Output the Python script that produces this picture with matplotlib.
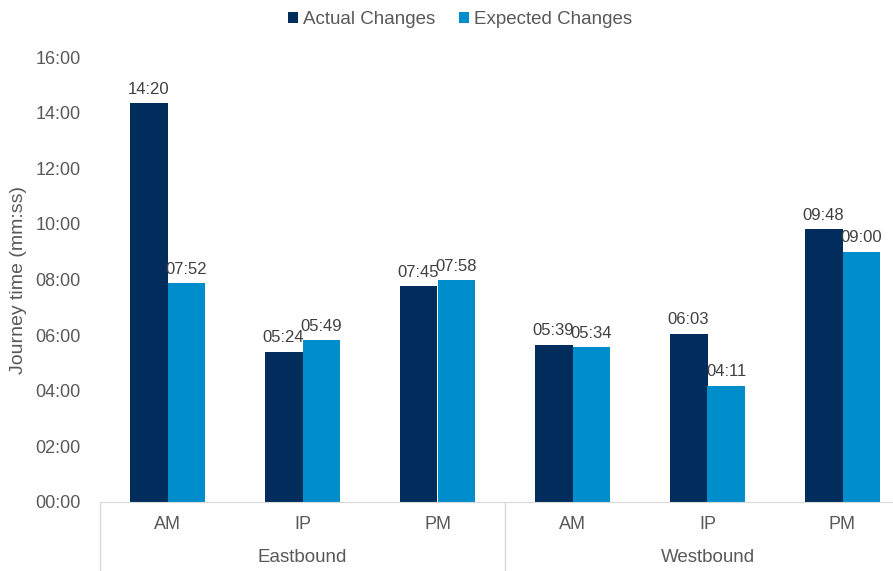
import numpy as np
import matplotlib.pyplot as plt

plt.rcParams['font.family'] = ['Liberation Sans', 'DejaVu Sans']

# Journey times in seconds
periods = ["AM", "IP", "PM", "AM", "IP", "PM"]
directions = ["Eastbound", "Westbound"]
actual = [860, 324, 465, 339, 363, 588]
expected = [472, 349, 478, 334, 251, 540]

navy = "#002D5B"
blue = "#008DCC"
text_col = "#595959"
line_col = "#D9D9D9"


def mmss(sec):
    return f"{int(sec) // 60:02d}:{int(sec) % 60:02d}"


fig = plt.figure(figsize=(8.93, 5.71), dpi=100)
ax = fig.add_axes([100 / 893, 69 / 571, 793 / 893, 445 / 571])

x = np.arange(len(periods))
w = 0.28
b1 = ax.bar(x - w / 2, actual, w, color=navy, label="Actual Changes")
b2 = ax.bar(x + w / 2, expected, w, color=blue, label="Expected Changes")

for bars in (b1, b2):
    for rect in bars:
        h = rect.get_height()
        ax.text(rect.get_x() + rect.get_width() / 2, h + 14, mmss(h),
                ha="center", va="bottom", fontsize=12, color="#404040")

ax.set_ylim(0, 960)
ax.set_yticks(np.arange(0, 961, 120))
ax.set_yticklabels([mmss(v) for v in np.arange(0, 961, 120)])
ax.set_xlim(-0.5, -0.5 + 793 / 135)
ax.set_xticks(x)
ax.set_xticklabels(periods)
ax.tick_params(axis="both", length=0, labelsize=13, colors=text_col)
ax.tick_params(axis="x", pad=10)
ax.tick_params(axis="y", pad=14)

for side in ("top", "right", "left"):
    ax.spines[side].set_visible(False)
ax.spines["bottom"].set_color(line_col)

ax.set_ylabel("Journey time (mm:ss)", fontsize=14, color=text_col, labelpad=6)

# Group separators and direction labels below the period labels
for xs in (-0.5, 2.5, 5.5):
    ax.plot([xs, xs], [0, -155], color=line_col, lw=1, clip_on=False)
for i, d in enumerate(directions):
    ax.text(1 + 3 * i, -120, d, ha="center", va="center", fontsize=13.5,
            color=text_col)

leg = fig.legend(loc="upper center", bbox_to_anchor=(0.515, 1.01), ncol=2,
                 frameon=False, fontsize=13.5, handlelength=0.55,
                 handleheight=0.55, handletextpad=0.25, columnspacing=1.3)
for t in leg.get_texts():
    t.set_color(text_col)

fig.savefig("out.png", dpi=100)
